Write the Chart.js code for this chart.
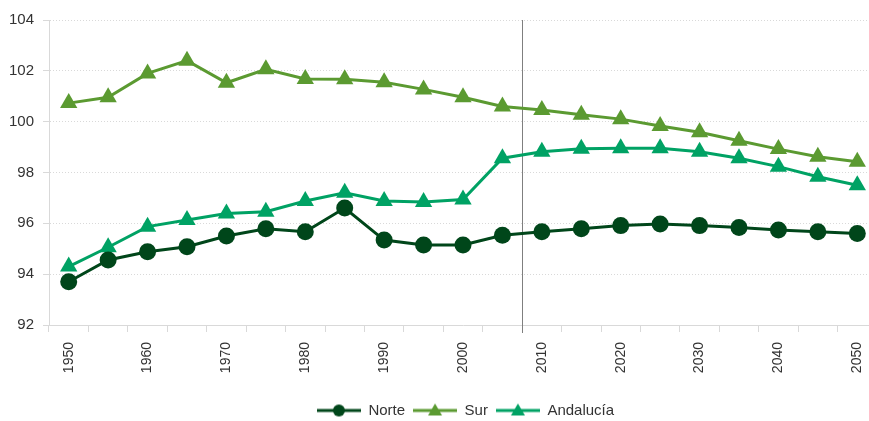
<!DOCTYPE html>
<html lang="es">
<head>
    <meta charset="UTF-8">
    <title>Norte, Sur y Andalucía 1950-2050</title>
    <style>
        html, body {
            margin: 0;
            padding: 0;
            overflow: hidden; /* el lienzo es algo más ancho que la ventana */
            background: #fff;
        }
        #chart-container {
            width: 890px;
            height: 428px;
        }
    </style>
</head>
<body>
    <div id="chart-container">
        <canvas id="ratio-chart" width="890" height="428"></canvas>
    </div>

    <script src="https://cdn.jsdelivr.net/npm/chart.js"></script>

    <script>
        // Años (cada 5), sólo se rotulan los múltiplos de 10
        const years = ['1950', '1955', '1960', '1965', '1970', '1975', '1980', '1985', '1990', '1995', '2000',
                       '2005', '2010', '2015', '2020', '2025', '2030', '2035', '2040', '2045', '2050'];

        const norte = [93.7, 94.56, 94.88, 95.08, 95.5, 95.79, 95.67, 96.6, 95.34, 95.15, 95.15,
                       95.53, 95.67, 95.79, 95.91, 95.97, 95.91, 95.84, 95.74, 95.67, 95.6];
        const sur = [100.73, 100.96, 101.9, 102.4, 101.53, 102.06, 101.68, 101.67, 101.55, 101.27, 100.96,
                     100.6, 100.46, 100.27, 100.1, 99.83, 99.58, 99.25, 98.92, 98.62, 98.42];
        const andalucia = [94.3, 95.06, 95.87, 96.13, 96.39, 96.46, 96.88, 97.2, 96.88, 96.84, 96.94,
                           98.56, 98.82, 98.93, 98.95, 98.95, 98.82, 98.56, 98.23, 97.83, 97.5];

        const yTicks = [92, 94, 96, 98, 100, 102, 104];

        // Año tras el que se separan datos y proyección
        const splitAfter = '2005';

        const colNorte = '#00461a';
        const colSur = '#5b9a31';
        const colAnd = '#00a264';

        // Símbolo de leyenda: línea con marcador en el centro
        function legendSymbol(color, style) {
            const c = document.createElement('canvas');
            c.width = 44;
            c.height = 16;
            const g = c.getContext('2d');
            g.strokeStyle = color;
            g.fillStyle = color;
            g.lineWidth = 3;
            g.beginPath();
            g.moveTo(0, 8);
            g.lineTo(44, 8);
            g.stroke();
            g.beginPath();
            if (style === 'circle') {
                g.arc(22, 8, 6, 0, Math.PI * 2);
            } else {
                g.moveTo(22, 1);
                g.lineTo(29, 13);
                g.lineTo(15, 13);
                g.closePath();
            }
            g.fill();
            return c;
        }

        // Línea vertical gris entre 2005 y 2010
        const splitLine = {
            id: 'splitLine',
            beforeDatasetsDraw(chart) {
                const x = chart.scales.x;
                const i = years.indexOf(splitAfter);
                const px = (x.getPixelForValue(i) + x.getPixelForValue(i + 1)) / 2;
                const ctx = chart.ctx;
                ctx.save();
                ctx.strokeStyle = '#7f7f7f';
                ctx.lineWidth = 1;
                ctx.beginPath();
                ctx.moveTo(Math.round(px) + 0.5, chart.chartArea.top);
                ctx.lineTo(Math.round(px) + 0.5, chart.chartArea.bottom + 8);
                ctx.stroke();
                ctx.restore();
            }
        };

        // La leyenda va algo desplazada a la derecha del centro
        const legendShift = {
            id: 'legendShift',
            afterLayout(chart) {
                chart.legend.left += 27;
                chart.legend.right += 27;
            }
        };

        const series = [
            { label: 'Norte', data: norte, color: colNorte, style: 'circle', radius: 8.5 },
            { label: 'Sur', data: sur, color: colSur, style: 'triangle', radius: 10 },
            { label: 'Andalucía', data: andalucia, color: colAnd, style: 'triangle', radius: 10 }
        ];

        Chart.defaults.font.family = '"Liberation Sans", Arial, sans-serif';
        Chart.defaults.color = '#333333';

        const ctx = document.getElementById('ratio-chart').getContext('2d');
        const chart = new Chart(ctx, {
            type: 'line',
            data: {
                labels: years,
                datasets: series.map(s => ({
                    label: s.label,
                    data: s.data,
                    borderColor: s.color,
                    backgroundColor: s.color,
                    borderWidth: 3,
                    pointStyle: s.style,
                    pointRadius: s.radius,
                    pointBorderWidth: 0,
                    pointBackgroundColor: s.color,
                    tension: 0,
                    fill: false
                }))
            },
            options: {
                responsive: false,
                animation: false,
                devicePixelRatio: 1,
                layout: {
                    padding: { top: 20, right: 13, left: 0, bottom: 0 }
                },
                scales: {
                    x: {
                        offset: true,
                        grid: {
                            drawOnChartArea: false,
                            drawTicks: true,
                            tickLength: 7,
                            tickColor: '#d9d9d9',
                            offset: true
                        },
                        border: { color: '#d9d9d9', width: 1 },
                        ticks: {
                            autoSkip: false,
                            minRotation: 90,
                            maxRotation: 90,
                            padding: 10,
                            color: '#333333',
                            font: { size: 14 },
                            callback: (v, i) => (i % 2 === 0 ? years[i] : '')
                        },
                        afterFit: scale => { scale.height = 70; }
                    },
                    y: {
                        min: 92,
                        max: 104,
                        afterBuildTicks: scale => {
                            scale.ticks = yTicks.map(v => ({ value: v }));
                        },
                        grid: {
                            color: '#d9d9d9',
                            drawTicks: true,
                            tickLength: 6,
                            tickColor: '#d9d9d9',
                            tickBorderDash: []
                        },
                        border: { color: '#d9d9d9', width: 1, dash: [1, 2] },
                        ticks: {
                            padding: 9,
                            color: '#333333',
                            font: { size: 15 }
                        },
                        afterFit: scale => { scale.width = 49; }
                    }
                },
                plugins: {
                    legend: {
                        position: 'bottom',
                        labels: {
                            usePointStyle: true,
                            pointStyleWidth: 44,
                            padding: 8,
                            color: '#333333',
                            font: { size: 15 },
                            generateLabels: ch => {
                                const items = Chart.defaults.plugins.legend.labels.generateLabels(ch);
                                return items.map((it, i) => {
                                    it.pointStyle = legendSymbol(series[i].color, series[i].style);
                                    return it;
                                });
                            }
                        }
                    },
                    tooltip: { enabled: false }
                }
            },
            plugins: [splitLine, legendShift]
        });
    </script>
</body>
</html>
